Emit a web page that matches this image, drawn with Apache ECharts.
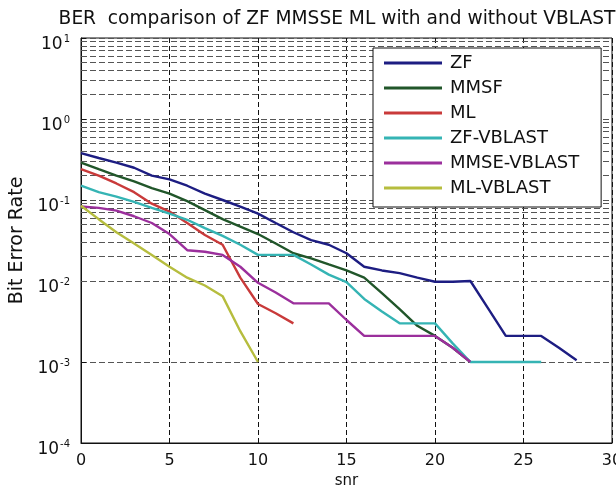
<!DOCTYPE html>
<html>
<head>
<meta charset="utf-8">
<script src="https://cdn.jsdelivr.net/npm/echarts@6/dist/echarts.min.js"></script>
<style>
  html, body { margin: 0; padding: 0; background: #fff; }
  #chart { width: 616px; height: 490px; }
</style>
</head>
<body>
<div id="chart"></div>
<script>
// SNR points (dB)
const snr = [0, 1, 2, 3, 4, 5, 6, 7, 8, 9, 10, 11, 12, 13, 14, 15, 16, 17, 18, 19, 20, 21, 22, 23, 24, 25, 26, 27, 28];

// Bit error rate per detector
const berZF = [0.38, 0.33, 0.29, 0.25, 0.20, 0.18, 0.15, 0.12, 0.10, 0.083, 0.068, 0.052, 0.040, 0.032, 0.028, 0.022, 0.015, 0.0135, 0.0125, 0.011, 0.0098, 0.0098, 0.010, 0.0046, 0.0021, 0.0021, 0.0021, 0.0015, 0.00105];
const berMMSF = [0.29, 0.24, 0.20, 0.17, 0.14, 0.12, 0.097, 0.075, 0.058, 0.047, 0.038, 0.029, 0.022, 0.019, 0.016, 0.0135, 0.011, 0.0071, 0.0045, 0.0028, 0.0021, 0.0015, 0.001];
const berML = [0.24, 0.20, 0.16, 0.125, 0.09, 0.072, 0.052, 0.037, 0.028, 0.011, 0.0052, 0.004, 0.003];
const berZFV = [0.15, 0.125, 0.11, 0.095, 0.08, 0.068, 0.057, 0.045, 0.036, 0.028, 0.021, 0.021, 0.021, 0.016, 0.012, 0.0097, 0.006, 0.0042, 0.003, 0.003, 0.003, 0.0017, 0.001, 0.001, 0.001, 0.001, 0.001];
const berMMSEV = [0.083, 0.08, 0.074, 0.063, 0.052, 0.038, 0.024, 0.023, 0.021, 0.015, 0.0095, 0.0072, 0.0053, 0.0053, 0.0053, 0.0033, 0.0021, 0.0021, 0.0021, 0.0021, 0.0021, 0.0015, 0.001];
const berMLV = [0.085, 0.058, 0.040, 0.029, 0.021, 0.015, 0.011, 0.0088, 0.0065, 0.0024, 0.001];

const seriesNames = ['ZF', 'MMSF', 'ML', 'ZF-VBLAST', 'MMSE-VBLAST', 'ML-VBLAST'];
const seriesValues = [berZF, berMMSF, berML, berZFV, berMMSEV, berMLV];
const seriesColors = ['#1d1d82', '#21562a', '#c93a3a', '#35b4b4', '#9b2f9c', '#b6bd3e'];

// Axis ranges / ticks
const xTicks = [0, 5, 10, 15, 20, 25, 30];
const yDecades = [-4, -3, -2, -1, 0, 1];

// Minor log gridlines at 2..9 x 10^k
const minorGrid = [];
for (let k = yDecades[0]; k < yDecades[yDecades.length - 1]; k++) {
  for (let m = 2; m <= 9; m++) minorGrid.push(m * Math.pow(10, k));
}

const FONT = '"DejaVu Sans", Verdana, sans-serif';

const chart = echarts.init(document.getElementById('chart'), null, { renderer: 'canvas' });

const series = seriesNames.map((name, i) => ({
  name: name,
  type: 'line',
  data: seriesValues[i].map((v, j) => [snr[j], v]),
  showSymbol: false,
  symbol: 'none',
  lineStyle: { color: seriesColors[i], width: 2.4 },
  itemStyle: { color: seriesColors[i] },
  z: 3,
  animation: false
}));

// gridlines for minor decades, drawn beneath the curves
series.push({
  name: '_grid',
  type: 'line',
  data: [],
  silent: true,
  animation: false,
  markLine: {
    silent: true,
    symbol: 'none',
    animation: false,
    z: 1,
    label: { show: false },
    lineStyle: { color: '#555', type: [6, 3], width: 1.1 },
    data: minorGrid.map(v => ({ yAxis: v }))
  }
});

chart.setOption({
  backgroundColor: '#fff',
  animation: false,
  title: {
    text: 'BER  comparison of ZF MMSSE ML with and without VBLAST',
    left: 332,
    textAlign: 'center',
    top: 5,
    textStyle: { fontFamily: FONT, fontSize: 18.6, fontWeight: 'normal', color: '#111' }
  },
  grid: {
    left: 81, right: 4, top: 38, bottom: 47,
    outerBoundsMode: 'none',
    containLabel: false,
    show: true, borderColor: '#111', borderWidth: 1, backgroundColor: 'transparent'
  },
  legend: {
    data: seriesNames,
    orient: 'vertical',
    left: 373,
    top: 48,
    icon: 'rect',
    itemWidth: 58,
    itemHeight: 3,
    itemGap: 7,
    padding: [6, 22, 10, 11],
    backgroundColor: '#fff',
    borderColor: '#111',
    borderWidth: 1,
    borderRadius: 0,
    textStyle: { fontFamily: FONT, fontSize: 18, color: '#111', lineHeight: 18, padding: [0, 0, 0, 3] },
    selectedMode: false,
    z: 10
  },
  xAxis: {
    type: 'value',
    min: xTicks[0],
    max: xTicks[xTicks.length - 1],
    interval: 5,
    name: 'snr',
    nameLocation: 'middle',
    nameGap: 29,
    nameTextStyle: { fontFamily: FONT, fontSize: 15, color: '#111' },
    axisLine: { show: true, lineStyle: { color: '#111', width: 1 } },
    axisTick: { show: true, inside: true, length: 5, lineStyle: { color: '#111' } },
    axisLabel: { fontFamily: FONT, fontSize: 16, color: '#111', margin: 10 },
    splitLine: { show: true, lineStyle: { color: '#111', type: [5, 3], width: 1 } }
  },
  yAxis: {
    type: 'log',
    logBase: 10,
    min: Math.pow(10, yDecades[0]),
    max: Math.pow(10, yDecades[yDecades.length - 1]),
    name: 'Bit Error Rate',
    nameLocation: 'middle',
    nameGap: 45,
    nameTextStyle: { fontFamily: FONT, fontSize: 19, color: '#111' },
    axisLine: { show: true, lineStyle: { color: '#111', width: 1 } },
    axisTick: { show: true, inside: true, length: 5, lineStyle: { color: '#111' } },
    axisLabel: {
      fontFamily: FONT,
      color: '#111',
      margin: 11,
      padding: [14, 0, 0, 0],
      formatter: v => '{b|10}{e|' + Math.round(Math.log10(v)) + '}',
      rich: {
        b: { fontFamily: FONT, fontSize: 17, color: '#111' },
        e: { fontFamily: FONT, fontSize: 10, color: '#111', padding: [0, 0, 11, 1] }
      }
    },
    splitLine: { show: true, lineStyle: { color: '#555', type: [6, 3], width: 1.1 } }
  },
  series: series
});
</script>
</body>
</html>
